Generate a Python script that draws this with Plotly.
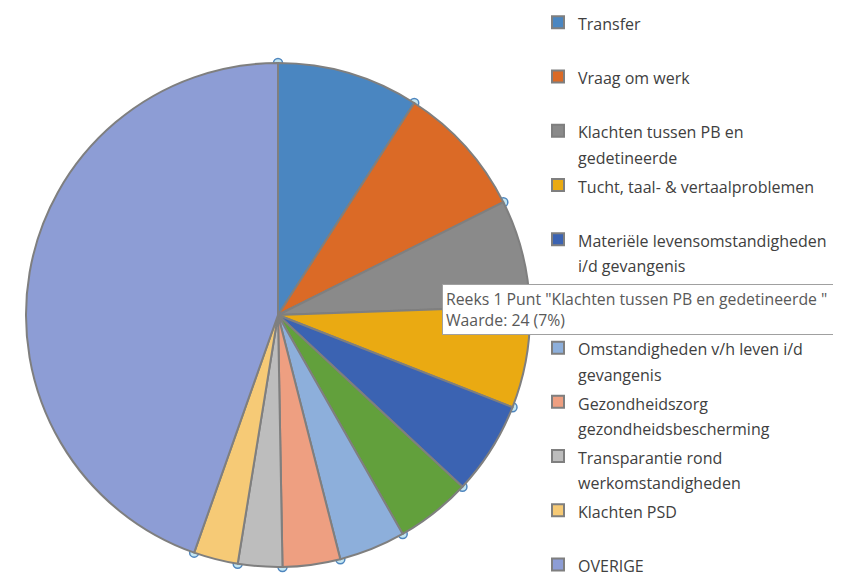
import math
import plotly.graph_objects as go

# ---- data ----
labels = [
    "Transfer",
    "Vraag om werk",
    "Klachten tussen PB en gedetineerde",
    "Tucht, taal- & vertaalproblemen",
    "Materiële levensomstandigheden i/d gevangenis",
    "Contacten met de buitenwereld",
    "Omstandigheden v/h leven i/d gevangenis",
    "Gezondheidszorg gezondheidsbescherming",
    "Transparantie rond werkomstandigheden",
    "Klachten PSD",
    "OVERIGE",
]
legend_lines = [
    ["Transfer"],
    ["Vraag om werk"],
    ["Klachten tussen PB en", "gedetineerde"],
    ["Tucht, taal- & vertaalproblemen"],
    ["Materiële levensomstandigheden", "i/d gevangenis"],
    ["Contacten met de", "buitenwereld"],
    ["Omstandigheden v/h leven i/d", "gevangenis"],
    ["Gezondheidszorg", "gezondheidsbescherming"],
    ["Transparantie rond", "werkomstandigheden"],
    ["Klachten PSD"],
    ["OVERIGE"],
]
values = [32, 30, 24, 23, 21, 17, 15, 13, 10, 10, 157]
colors = ["#4A86C1", "#DB6A26", "#8A8A8A", "#EAAA12", "#3B63B2", "#62A03C",
          "#8DAFDB", "#EE9F81", "#BDBDBD", "#F6CA76", "#8D9DD5"]
series_name = "Reeks 1"
selected = 2

# ---- layout constants ----
W, H = 841, 574
cx, cy, r = 270, 307, 252
FS = 19.7      # base legend font (controls line pitch)
TS = 16        # displayed legend text size

disp = []
for i, lines in enumerate(legend_lines):
    ls = [f'<span style="font-size:{TS}px">{t}</span>' for t in lines]
    if i < len(legend_lines) - 1:
        while len(ls) < 2:
            ls.append(" ")
    disp.append("<br>".join(ls))

fig = go.Figure()
fig.add_trace(go.Pie(
    labels=disp,
    values=values,
    sort=False,
    direction="clockwise",
    rotation=0,
    textinfo="none",
    hoverinfo="value+percent",
    marker=dict(colors=colors, line=dict(color="#7F7F7F", width=2)),
    domain=dict(x=[(cx - r) / W, (cx + r) / W], y=[(H - cy - r) / H, (H - cy + r) / H]),
    showlegend=True,
))

# selection handles at slice boundaries and centre
total = sum(values)
hx, hy = [cx], [H - cy]
cum = 0
for v in values:
    a = math.radians(cum / total * 360)
    hx.append(cx + r * math.sin(a))
    hy.append(H - (cy - r * math.cos(a)))
    cum += v
fig.add_trace(go.Scatter(
    x=hx, y=hy, mode="markers", showlegend=False, hoverinfo="skip",
    marker=dict(size=9, color="#C4E6F2", line=dict(color="#4F86BE", width=1.5)),
))

pct = round(100 * values[selected] / total)
tip = (f'{series_name} Punt "{labels[selected]} "&nbsp;&nbsp;&nbsp;&nbsp;'
       f'<br>Waarde: {values[selected]} ({pct}%)')
fig.add_annotation(
    text=tip, xref="paper", yref="paper", x=434 / W, y=1 - 276 / H,
    xanchor="left", yanchor="top", align="left", showarrow=False,
    font=dict(family="Open Sans", size=15.8, color="#595959"),
    bgcolor="white", bordercolor="#A0A0A0", borderwidth=1, borderpad=3,
)

fig.update_layout(
    width=W, height=H,
    margin=dict(l=0, r=0, t=0, b=0, autoexpand=False),
    paper_bgcolor="white", plot_bgcolor="white",
    xaxis=dict(range=[0, W], visible=False, fixedrange=True, domain=[0, 1]),
    yaxis=dict(range=[0, H], visible=False, fixedrange=True, domain=[0, 1]),
    legend=dict(
        x=530 / W, xanchor="left", y=1 + 5 / H, yanchor="top",
        valign="top", traceorder="normal", maxheight=700, borderwidth=0,
        font=dict(family="Open Sans", size=FS, color="#404040"),
        bgcolor="rgba(0,0,0,0)",
    ),
)

fig.write_html("out.html")
